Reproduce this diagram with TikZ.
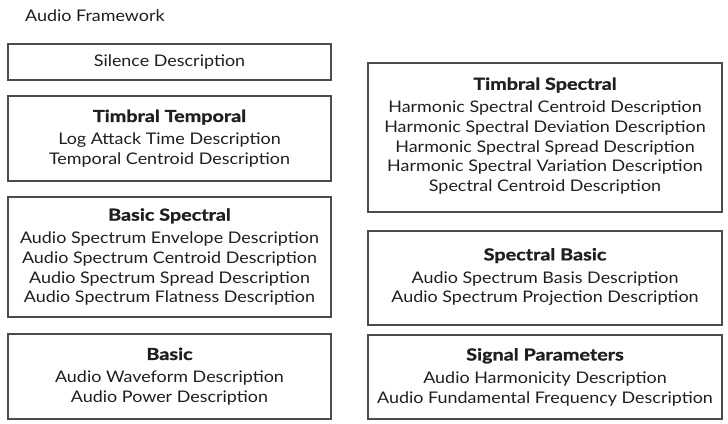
\documentclass[tikz,border=0pt]{standalone}
\usepackage{fontspec}
\setmainfont{Lato}[FakeStretch=1.12]
\newfontfamily\hdfont{Lato}[FakeStretch=1.2,BoldFeatures={FakeBold=1.3}]
\newcommand{\hd}[1]{{\hdfont\bfseries\fontsize{16.5}{19.8}\selectfont #1}}
\begin{document}
\begin{tikzpicture}[x=1pt,y=-1pt,
  box/.style={draw=black!70,line width=1.3pt,inner sep=0pt},
  txt/.style={text=black!88,font=\fontsize{16}{19.8}\selectfont,align=center,inner sep=0pt}]
\useasboundingbox[fill=white] (0,0) rectangle (728,423);
\node[txt,anchor=west] (title) at (25,16) {Audio Framework};
% left column
\draw[box] (8,44) rectangle (331,80);
\node[txt] (sil) at (169.5,62) {Silence Description};
\draw[box] (8,96) rectangle (331,181);
\node[txt] (tt) at (169.5,138.5) {\hd{Timbral Temporal}\\[3pt]Log Attack Time Description\\Temporal Centroid Description};
\draw[box] (8,197) rectangle (331,317);
\node[txt] (bs) at (169.5,257) {\hd{Basic Spectral}\\[3pt]Audio Spectrum Envelope Description\\Audio Spectrum Centroid Description\\Audio Spectrum Spread Description\\Audio Spectrum Flatness Description};
\draw[box] (8,334) rectangle (331,419);
\node[txt] (ba) at (169.5,376.5) {\hd{Basic}\\[3pt]Audio Waveform Description\\Audio Power Description};
% right column
\draw[box] (368,63) rectangle (722,212);
\node[txt] (ts) at (545,136) {\hd{Timbral Spectral}\\[3pt]Harmonic Spectral Centroid Description\\Harmonic Spectral Deviation Description\\Harmonic Spectral Spread Description\\Harmonic Spectral Variation Description\\Spectral Centroid Description};
\draw[box] (368,231) rectangle (722,325);
\node[txt] (sb) at (545,277) {\hd{Spectral Basic}\\[3pt]Audio Spectrum Basis Description\\Audio Spectrum Projection Description};
\draw[box] (368,335) rectangle (722,419);
\node[txt] (sp) at (545,377) {\hd{Signal Parameters}\\[3pt]Audio Harmonicity Description\\Audio Fundamental Frequency Description};
\end{tikzpicture}
\end{document}
